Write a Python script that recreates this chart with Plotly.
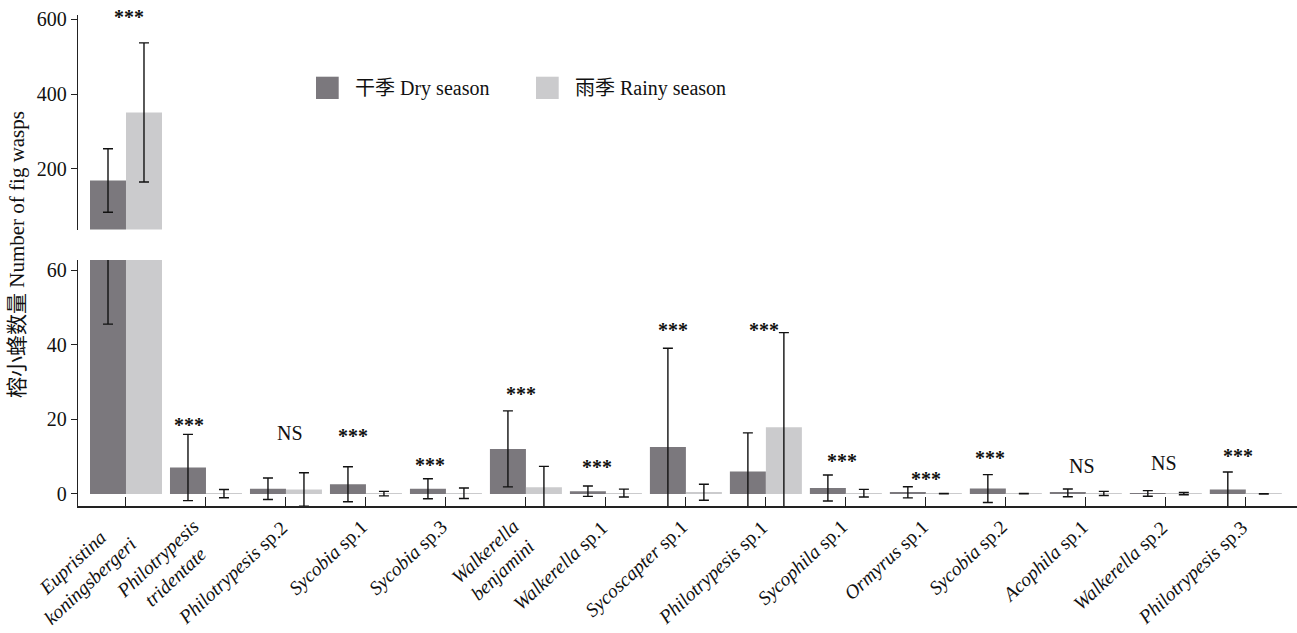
import plotly.graph_objects as go

# Fig wasp species reared from figs
species = [
    "<i>Eupristina</i><br><i>koningsbergeri</i>",
    "<i>Philotrypesis</i><br><i>tridentate</i>",
    "<i>Philotrypesis</i> sp.2",
    "<i>Sycobia</i> sp.1",
    "<i>Sycobia</i> sp.3",
    "<i>Walkerella</i><br><i>benjamini</i>",
    "<i>Walkerella</i> sp.1",
    "<i>Sycoscapter</i> sp.1",
    "<i>Philotrypesis</i> sp.1",
    "<i>Sycophila</i> sp.1",
    "<i>Ormyrus</i> sp.1",
    "<i>Sycobia</i> sp.2",
    "<i>Acophila</i> sp.1",
    "<i>Walkerella</i> sp.2",
    "<i>Philotrypesis</i> sp.3",
]

# Mean number of wasps per fig and standard deviation
dry_mean = [169, 7.1, 1.4, 2.6, 1.4, 12.1, 0.75, 12.6, 6.0, 1.6, 0.45, 1.45, 0.3, 0.15, 1.2]
dry_sd = [85, 8.9, 2.9, 4.7, 2.7, 10.2, 1.4, 26.5, 10.4, 3.5, 1.5, 3.75, 1.05, 0.75, 4.7]
rainy_mean = [351, 0.1, 1.2, 0.1, 0.2, 1.8, 0.25, 0.45, 17.9, 0.2, 0.1, 0.1, 0.15, 0.1, 0.05]
rainy_sd = [186, 1.1, 4.5, 0.6, 1.4, 5.6, 1.05, 2.15, 25.4, 1.03, 0.05, 0.05, 0.55, 0.3, 0.05]

# Lower whisker end of E. koningsbergeri (dry season) as shown in the lower panel
eup_dry_low_end = 45.6

# Significance of the season difference
significance = ["***", "***", "NS", "***", "***", "***", "***", "***", "***",
                "***", "***", "***", "NS", "NS", "***"]

upper_ticks = [200, 400, 600]
lower_ticks = [0, 20, 40, 60]

# ---------------------------------------------------------------- styling
FONT = "Liberation Serif, Times New Roman, Noto Sans CJK SC, serif"
DARK = "#7b787d"
LIGHT = "#cbcbcd"
W, H = 1297, 633
ML, MR, MT, MB = 78, 0, 15, 127
PW, PH = W - ML - MR, H - MT - MB


def px_x(px):
    return (px - ML) / PW


def px_y(py):
    return (H - MB - py) / PH


x = list(range(len(species)))
lower_minus = list(dry_sd)
lower_minus[0] = dry_mean[0] - eup_dry_low_end

fig = go.Figure()


def err(plus, minus=None):
    return dict(type="data", array=plus, arrayminus=minus if minus is not None else plus,
                symmetric=False, color="#111111", thickness=1.4, width=5)


# lower panel: all species
fig.add_trace(go.Bar(x=x, y=dry_mean, yaxis="y", offsetgroup="dry",
                     marker=dict(color=DARK, line=dict(width=0)),
                     error_y=err(dry_sd, lower_minus), showlegend=False,
                     name="干季 Dry season"))
fig.add_trace(go.Bar(x=x, y=rainy_mean, yaxis="y", offsetgroup="rainy",
                     marker=dict(color=LIGHT, line=dict(width=0)),
                     error_y=err(rainy_sd), showlegend=False,
                     name="雨季 Rainy season"))
# upper panel: only the dominant pollinator exceeds the break
fig.add_trace(go.Bar(x=x[:1], y=dry_mean[:1], yaxis="y2", offsetgroup="dry",
                     marker=dict(color=DARK, line=dict(width=0)),
                     error_y=err(dry_sd[:1]), showlegend=False,
                     name="干季 Dry season"))
fig.add_trace(go.Bar(x=x[:1], y=rainy_mean[:1], yaxis="y2", offsetgroup="rainy",
                     marker=dict(color=LIGHT, line=dict(width=0)),
                     error_y=err(rainy_sd[:1]), showlegend=False,
                     name="雨季 Rainy season"))

axis_common = dict(showgrid=False, zeroline=False, showline=True, linecolor="#222222",
                   linewidth=1.3, ticks="outside", ticklen=6, tickwidth=1.2,
                   tickcolor="#222222", automargin=False,
                   tickfont=dict(family=FONT, size=20, color="#111111"))

fig.update_layout(
    width=W, height=H,
    margin=dict(l=ML, r=MR, t=MT, b=MB, autoexpand=False),
    paper_bgcolor="white", plot_bgcolor="white",
    barmode="group", bargap=0.1, bargroupgap=0,
    font=dict(family=FONT, size=20, color="#111111"),
    xaxis=dict(range=[-0.6, 14.64], tickmode="array", tickvals=x, showticklabels=False,
               showline=True, linecolor="#222222", linewidth=1.6,
               ticks="inside", ticklen=9, tickwidth=1.3, tickcolor="#222222",
               showgrid=False, zeroline=False, automargin=False),
    yaxis=dict(domain=[0, px_y(260)], range=[-3.23, 62.8], tickvals=lower_ticks,
               **axis_common),
    yaxis2=dict(domain=[px_y(229.5), 1], range=[38, 611.5], tickvals=upper_ticks,
                anchor="x", **axis_common),
)

# species names under the axis: slanted, lines centred, top-right corner at the tick
for i, name in enumerate(species):
    two_line = "<br>" in name
    fig.add_annotation(x=i, y=px_y(514 if two_line else 515), xref="x", yref="paper",
                       text=name, showarrow=False, textangle=-43, align="center",
                       xanchor="right", yanchor="top", xshift=15 if two_line else 7,
                       borderpad=0,
                       font=dict(family=FONT, size=19.5, color="#111111"))

# significance labels: (horizontal nudge in px, height in data units)
# the first one sits at the very top of the upper panel
label_place = [(3, 611), (-17, 19.6), (4, 16.4), (-13, 16.5), (-16, 8.8), (-5, 27.9),
               (-9, 8.3), (-13, 45.0), (-2, 45.1), (-4, 10.0), (0, 5.0), (-16, 10.7),
               (-4, 7.5), (-2, 8.4), (-8, 11.3)]
for i, (lab, (dx, yy)) in enumerate(zip(significance, label_place)):
    is_star = lab == "***"
    fig.add_annotation(x=i, y=yy, xref="x", yref="y2" if i == 0 else "y",
                       text=f"<b>{lab}</b>" if is_star else lab,
                       showarrow=False, xshift=dx,
                       yshift=(-2 if i == 0 else -4) if is_star else 0,
                       font=dict(family=FONT, size=20, color="#111111"),
                       xanchor="center", yanchor="middle")

# y-axis title spanning both panels
fig.add_annotation(x=px_x(17), y=px_y(255), xref="paper", yref="paper",
                   text="榕小蜂数量 Number of fig wasps", textangle=-90, showarrow=False,
                   font=dict(family=FONT, size=21, color="#111111"),
                   xanchor="center", yanchor="middle")

# legend
for (x0, x1, color, tx, label) in ((316, 338.7, DARK, 353, "干季 Dry season"),
                                   (536, 558.7, LIGHT, 573, "雨季 Rainy season")):
    fig.add_shape(type="rect", xref="paper", yref="paper",
                  x0=px_x(x0), x1=px_x(x1), y0=px_y(99), y1=px_y(76.7),
                  fillcolor=color, line=dict(width=0))
    fig.add_annotation(x=px_x(tx), y=px_y(88), xref="paper", yref="paper",
                       text=label, showarrow=False, xanchor="left", yanchor="middle",
                       font=dict(family=FONT, size=20, color="#111111"))

fig.write_html("out.html")
